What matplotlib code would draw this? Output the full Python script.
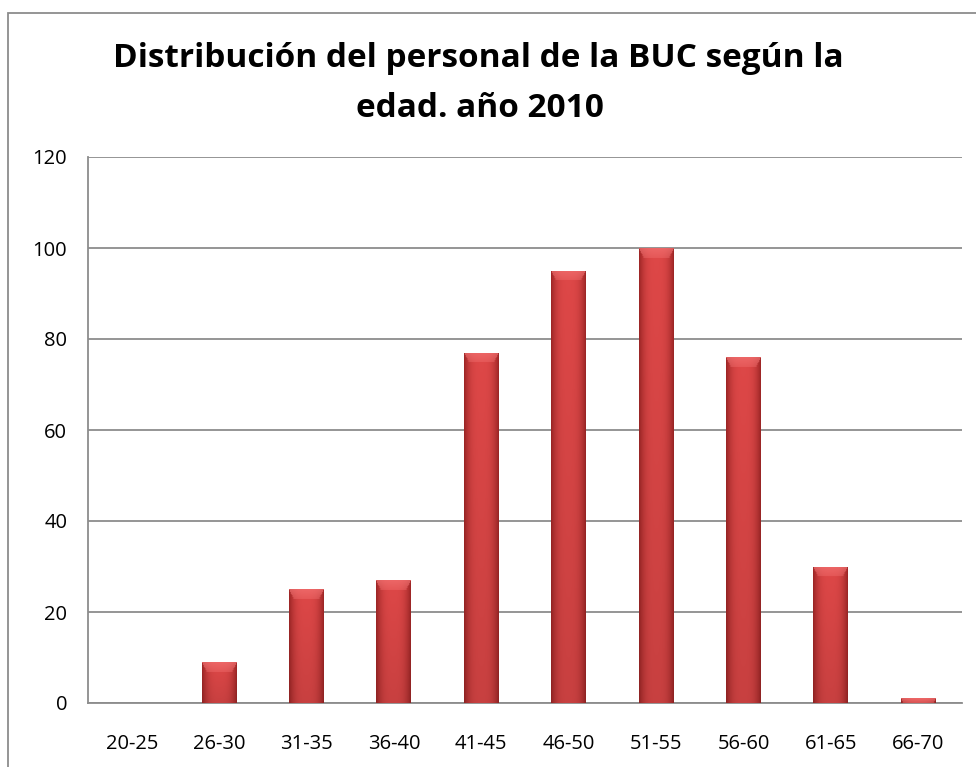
import numpy as np
import matplotlib
matplotlib.use("Agg")
import matplotlib.pyplot as plt
from matplotlib.patches import Rectangle

categories = ["20-25", "26-30", "31-35", "36-40", "41-45", "46-50", "51-55", "56-60", "61-65", "66-70"]
values = [0, 9, 25, 27, 77, 95, 100, 76, 30, 1]
yticks = [0, 20, 40, 60, 80, 100, 120]
title_lines = ["Distribución del personal de la BUC según la", "edad. año 2010"]

W, H = 976, 767
fig = plt.figure(figsize=(W / 100, H / 100), dpi=100)
fig.patch.set_facecolor("white")

# outer chart border (top and left visible)
border = Rectangle((8 / W, -0.05), 1.2, 1 - 13 / H + 0.05, transform=fig.transFigure,
                   fill=False, edgecolor="#8c8c8c", linewidth=1.3)
fig.patches.append(border)

ax = fig.add_axes([88 / W, 64 / H, 874 / W, 546 / H])
x = np.arange(len(categories))
bars = ax.bar(x, values, width=0.4, color="#cf3d3d", edgecolor="none", zorder=2)

ax.set_xlim(-0.5, len(categories) - 0.5)
ax.set_ylim(0, 120)
ax.set_yticks(yticks)
ax.set_xticks(x)
ax.set_xticklabels(categories)
ax.yaxis.grid(True, color="#8c8c8c", linewidth=1.3, zorder=0)
ax.set_axisbelow(True)
for s in ["top", "right"]:
    ax.spines[s].set_visible(False)
for s in ["left", "bottom"]:
    ax.spines[s].set_color("#8c8c8c")
    ax.spines[s].set_linewidth(1.3)
ax.tick_params(axis="both", length=0, labelsize=14.5, colors="black")
ax.tick_params(axis="x", pad=22)
ax.tick_params(axis="y", pad=15)
for lbl in ax.get_xticklabels() + ax.get_yticklabels():
    lbl.set_fontfamily("Open Sans")
    lbl.set_color("black")

# gradient shading on each bar
px_per_unit = 546 / 120.0
edge = np.array([0.62, 0.15, 0.15])
mid = np.array([0.87, 0.28, 0.28])
top_col = np.array([0.95, 0.45, 0.45])
for b in bars:
    h = b.get_height()
    if h <= 0:
        continue
    x0, w = b.get_x(), b.get_width()
    hp = max(int(round(h * px_per_unit)), 2)
    cols = 40
    t = np.linspace(-1, 1, cols)
    prof = np.clip(1 - np.abs(t) ** 3, 0, 1)[:, None]
    row = edge + (mid - edge) * prof
    img = np.repeat(row[None, :, :], hp, axis=0)
    yy = np.linspace(0, 1, hp)[:, None, None]
    img = img * (1 - 0.10 * yy)
    bev = min(10, hp)
    for r in range(bev):
        f = 1 - 0.5 * r / bev
        inset = int(round(r * 0.6))
        sl = slice(inset, cols - inset) if inset > 0 else slice(0, cols)
        img[r, sl] = img[r, sl] * (1 - 0.7 * f) + top_col * 0.7 * f
    im = ax.imshow(np.clip(img, 0, 1), extent=(x0, x0 + w, 0, h), aspect="auto",
                   zorder=3, interpolation="bilinear")
    im.set_clip_path(b)

ax.set_xlim(-0.5, len(categories) - 0.5)
ax.set_ylim(0, 120)

fig.text(478 / W, 1 - 67 / H, title_lines[0], ha="center", va="baseline", fontsize=24,
         fontweight="bold", fontfamily="Open Sans")
fig.text(480 / W, 1 - 117 / H, title_lines[1], ha="center", va="baseline", fontsize=24,
         fontweight="bold", fontfamily="Open Sans")

fig.savefig("out.png", dpi=100)
